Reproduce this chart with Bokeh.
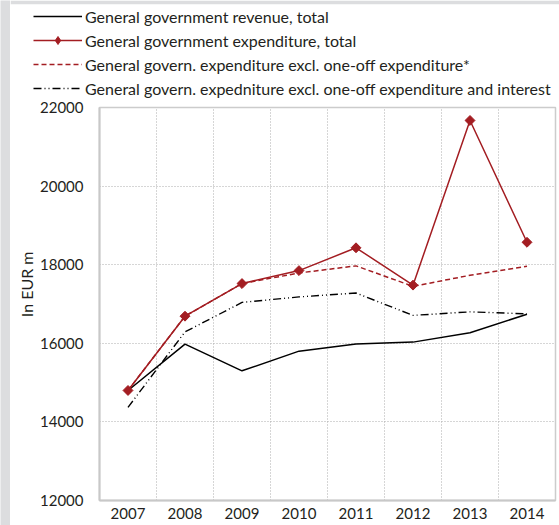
import math
from bokeh.plotting import figure
from bokeh.layouts import column, row
from bokeh.models import Range1d, FixedTicker, Legend, LegendItem, Title
from bokeh.embed import file_html
from bokeh.resources import INLINE

years = [2007, 2008, 2009, 2010, 2011, 2012, 2013, 2014]
revenue = [14800, 15980, 15300, 15800, 15980, 16030, 16270, 16740]
expenditure = [14800, 16690, 17520, 17850, 18430, 17480, 21670, 18570]
exp_excl_oneoff = [14800, 16690, 17520, 17790, 17970, 17450, 17730, 17960]
exp_excl_oneoff_interest = [14370, 16290, 17040, 17180, 17280, 16710, 16800, 16750]

y_ticks = [12000, 14000, 16000, 18000, 20000, 22000]
grid_x = [2007.5, 2008.5, 2009.5, 2010.5, 2011.5, 2012.5, 2013.5]
grid_y = [14000, 16000, 18000, 20000]

y_title = "In EUR m"
labels = [
    "General government revenue, total",
    "General government expenditure, total",
    "General govern. expenditure excl. one-off expenditure*",
    "General govern. expedniture excl. one-off expenditure and interest",
]

FONT = "Lato"
RED = "#a31d22"
TXT = "#231f20"
GRAY_BG = "#dcdddf"


def no_align(fig):
    try:
        fig.frame_align = False
    except Exception:
        pass


def draw_series(fig, marker, size, angle):
    r1 = fig.line(years, revenue, line_color="black", line_width=1.5)
    r4 = fig.line(years, exp_excl_oneoff_interest, line_color="black", line_width=1.4,
                  line_dash="8 3 1 3 1 3")
    r3 = fig.line(years, exp_excl_oneoff, line_color=RED, line_width=1.5, line_dash="5 3")
    r2 = fig.line(years, expenditure, line_color=RED, line_width=1.5)
    r2m = fig.scatter(years, expenditure, marker=marker, angle=angle, size=size,
                      fill_color=RED, line_color=RED, line_width=1)
    return r1, r2, r2m, r3, r4


# ---- main chart ----
p = figure(width=549, height=427, output_backend="svg", toolbar_location=None,
           x_range=Range1d(2006.5, 2014.5), y_range=Range1d(12000, 22000),
           min_border_left=89, min_border_right=4, min_border_top=9, min_border_bottom=25)
p.background_fill_color = "white"
p.border_fill_color = "white"
p.outline_line_color = "#cccccc"
p.outline_line_width = 1.5
draw_series(p, "square", 7, math.pi / 4)

p.xaxis.ticker = FixedTicker(ticks=years)
p.yaxis.ticker = FixedTicker(ticks=y_ticks)
for ax in (p.xaxis[0], p.yaxis[0]):
    ax.axis_line_color = "#c8c8c8"
    ax.axis_line_width = 2
    ax.major_tick_line_color = None
    ax.minor_tick_line_color = None
    ax.major_tick_out = 0
    ax.major_tick_in = 0
    ax.major_label_text_font = FONT
    ax.major_label_text_font_size = "15px"
    ax.major_label_text_color = TXT
p.xaxis.major_label_standoff = 7
p.yaxis.major_label_standoff = 16

# y-axis title, placed a little above the frame's middle as in the original
yt = Title(text=y_title, align="right", offset=144, standoff=4,
           text_font=FONT, text_font_size="16px", text_font_style="normal",
           text_color=TXT)
p.add_layout(yt, "left")

p.xgrid.ticker = FixedTicker(ticks=grid_x)
p.ygrid.ticker = FixedTicker(ticks=grid_y)
for g in (p.xgrid[0], p.ygrid[0]):
    g.grid_line_color = "#adadad"
    g.grid_line_dash = "1 2"
    g.grid_line_width = 1

# ---- legend strip above the chart ----
lg = figure(width=549, height=98, output_backend="svg", toolbar_location=None,
            x_range=Range1d(0, 1), y_range=Range1d(0, 1),
            min_border_left=0, min_border_right=0, min_border_top=4, min_border_bottom=0)
no_align(lg)
lg.axis.visible = False
lg.grid.visible = False
lg.outline_line_color = None
lg.background_fill_color = "white"
lg.border_fill_color = GRAY_BG
# the series lie outside this strip's ranges; only the legend is visible here
l1, l2, l2m, l3, l4 = draw_series(lg, "diamond", 10, 0)

legend = Legend(items=[
    LegendItem(label=labels[0], renderers=[l1]),
    LegendItem(label=labels[1], renderers=[l2, l2m]),
    LegendItem(label=labels[2], renderers=[l3]),
    LegendItem(label=labels[3], renderers=[l4]),
], location=(23, 0))
legend.padding = 0
legend.margin = 0
legend.spacing = 4
legend.glyph_width = 49
legend.glyph_height = 20
legend.label_height = 20
legend.label_standoff = 3
legend.label_text_font = FONT
legend.label_text_font_size = "16px"
legend.label_text_color = TXT
legend.border_line_color = None
legend.background_fill_alpha = 0
lg.add_layout(legend, "center")

# ---- thin grey strip on the left edge ----
strip = figure(width=10, height=525, output_backend="svg", toolbar_location=None,
               x_range=Range1d(0, 1), y_range=Range1d(0, 1),
               min_border_left=0, min_border_right=0, min_border_top=0, min_border_bottom=0)
no_align(strip)
strip.axis.visible = False
strip.grid.visible = False
strip.outline_line_color = None
strip.background_fill_color = GRAY_BG
strip.border_fill_color = GRAY_BG

layout = row(strip, column(lg, p, spacing=0), spacing=0)
open("out.html", "w").write(file_html(layout, INLINE))
